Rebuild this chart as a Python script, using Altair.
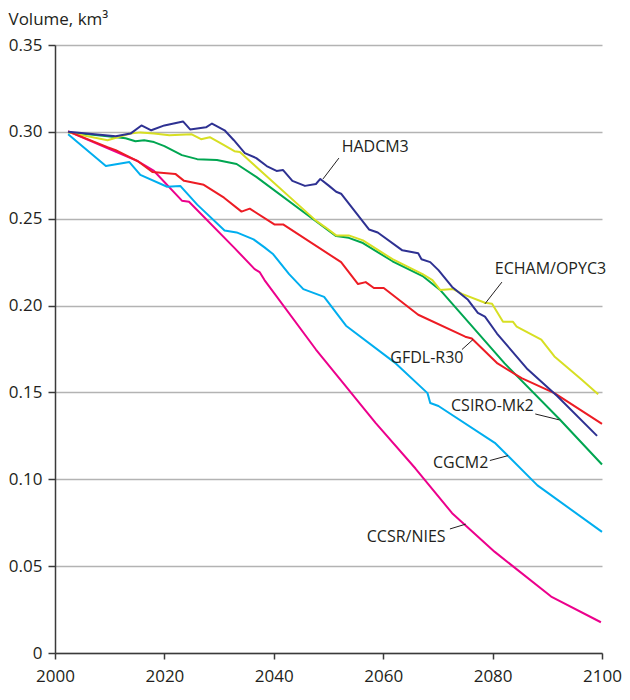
import altair as alt
import pandas as pd

# ---- data ----
hadcm3_year = [2002.4, 2011.1, 2013.8, 2015.8, 2017.6, 2020.0, 2023.4, 2024.7, 2027.6, 2028.7, 2031.0, 2032.7,
               2034.7, 2036.8, 2038.7, 2040.5, 2041.7, 2043.4, 2045.7, 2047.7, 2048.5, 2050.1, 2051.4, 2052.3,
               2057.4, 2059.0, 2063.5, 2066.4, 2067.0, 2068.6, 2070.1, 2072.6, 2075.5, 2077.3, 2078.6, 2080.8,
               2086.4, 2091.8, 2099.1]
hadcm3_vol = [0.300, 0.2975, 0.299, 0.3037, 0.3009, 0.3037, 0.306, 0.3014, 0.3026, 0.3048, 0.3009, 0.2952,
              0.2878, 0.2849, 0.2803, 0.2775, 0.278, 0.2718, 0.2689, 0.270, 0.2729, 0.2689, 0.2655, 0.2644,
              0.2438, 0.2421, 0.2318, 0.2301, 0.2267, 0.225, 0.2204, 0.2107, 0.2033, 0.1958, 0.1936, 0.1839,
              0.1633, 0.1479, 0.125]

echam_year = [2002.4, 2009.6, 2013.8, 2015.6, 2018.1, 2020.9, 2025.0, 2026.7, 2028.3, 2030.9, 2032.8, 2033.8,
              2035.6, 2047.7, 2049.5, 2051.4, 2053.7, 2056.3, 2061.7, 2067.2, 2069.0, 2070.4, 2072.8, 2074.4,
              2078.6, 2079.9, 2081.9, 2083.7, 2084.4, 2088.9, 2091.3, 2096.2, 2099.3]
echam_vol = [0.2997, 0.2952, 0.2991, 0.2997, 0.2991, 0.298, 0.2986, 0.2958, 0.2969, 0.2923, 0.2889, 0.2884,
             0.2832, 0.2489, 0.2449, 0.2404, 0.2404, 0.2375, 0.2267, 0.2181, 0.2147, 0.209, 0.2095, 0.2067,
             0.2016, 0.201, 0.1907, 0.1907, 0.1879, 0.1804, 0.1707, 0.1576, 0.149]

csiro_year = [2002.4, 2009.6, 2012.9, 2014.7, 2016.3, 2018.1, 2020.0, 2023.2, 2026.0, 2029.6, 2033.2, 2036.8,
              2047.7, 2051.4, 2053.7, 2056.3, 2061.7, 2067.2, 2070.4, 2082.2, 2092.2, 2100.0]
csiro_vol = [0.2997, 0.2975, 0.2963, 0.2946, 0.2952, 0.2941, 0.2918, 0.2866, 0.2843, 0.2838, 0.2815, 0.2741,
             0.2485, 0.240, 0.239, 0.236, 0.2255, 0.217, 0.209, 0.1667, 0.1347, 0.1085]

gfdl_year = [2002.4, 2009.6, 2011.1, 2015.1, 2017.8, 2022.0, 2023.6, 2027.2, 2030.9, 2034.1, 2035.6, 2040.1,
             2041.7, 2052.3, 2055.4, 2056.8, 2058.3, 2060.1, 2066.4, 2075.0, 2076.2, 2080.9, 2085.3, 2091.3,
             2100.0]
gfdl_vol = [0.3003, 0.2912, 0.2895, 0.2832, 0.2769, 0.2758, 0.2718, 0.2695, 0.2621, 0.2541, 0.2558, 0.2467,
            0.2467, 0.225, 0.2124, 0.2135, 0.2101, 0.2101, 0.1947, 0.1821, 0.181, 0.1667, 0.1582, 0.1496,
            0.1319]

cgcm2_year = [2002.4, 2009.3, 2013.6, 2015.6, 2020.5, 2022.9, 2026.0, 2031.0, 2033.2, 2036.3, 2038.3, 2039.9,
              2042.8, 2045.4, 2049.2, 2053.2, 2062.3, 2068.1, 2068.6, 2070.1, 2080.4, 2082.8, 2088.2, 2100.0]
cgcm2_vol = [0.2986, 0.2803, 0.2826, 0.2752, 0.2684, 0.2689, 0.2581, 0.2432, 0.2421, 0.2381, 0.2335, 0.2295,
             0.2181, 0.2095, 0.205, 0.1884, 0.1667, 0.1496, 0.1439, 0.1422, 0.121, 0.1136, 0.0965, 0.0697]

ccsr_year = [2002.4, 2015.1, 2018.1, 2023.2, 2024.5, 2032.7, 2036.5, 2037.4, 2038.3, 2047.7, 2049.9, 2058.6,
             2065.9, 2072.6, 2080.4, 2090.7, 2099.8]
ccsr_vol = [0.3003, 0.2832, 0.2775, 0.2604, 0.2598, 0.2335, 0.221, 0.2193, 0.2147, 0.1747, 0.1662, 0.1325,
            0.1062, 0.0805, 0.0582, 0.0325, 0.0177]

models = ["CCSR/NIES", "CGCM2", "CSIRO-Mk2", "ECHAM/OPYC3", "GFDL-R30", "HADCM3"]
colors = ["#ec008c", "#00aeef", "#00a651", "#d7df23", "#ed1c24", "#2e3192"]
series = {
    "CCSR/NIES": (ccsr_year, ccsr_vol),
    "CGCM2": (cgcm2_year, cgcm2_vol),
    "CSIRO-Mk2": (csiro_year, csiro_vol),
    "ECHAM/OPYC3": (echam_year, echam_vol),
    "GFDL-R30": (gfdl_year, gfdl_vol),
    "HADCM3": (hadcm3_year, hadcm3_vol),
}

# annotation anchors (data coordinates) and leader lines
label_text = ["HADCM3", "ECHAM/OPYC3", "GFDL-R30", "CSIRO-Mk2", "CGCM2", "CCSR/NIES"]
label_year = [2052.4, 2080.4, 2061.3, 2072.4, 2069.1, 2057.0]
label_vol = [0.2912, 0.2210, 0.1701, 0.1422, 0.1091, 0.0668]
lead_year1 = [2051.9, 2081.7, 2074.4, 2087.8, 2079.5, 2072.2]
lead_vol1 = [0.2849, 0.2135, 0.1747, 0.1376, 0.1108, 0.0714]
lead_year2 = [2049.0, 2078.6, 2076.4, 2092.2, 2082.8, 2075.1]
lead_vol2 = [0.2729, 0.2010, 0.1804, 0.1342, 0.1136, 0.0742]

x_ticks = [2000, 2020, 2040, 2060, 2080, 2100]
y_ticks = [0, 0.05, 0.10, 0.15, 0.20, 0.25, 0.30, 0.35]

rows = []
for i, m in enumerate(models):
    ys, vs = series[m]
    for j, (yr, v) in enumerate(zip(ys, vs)):
        rows.append({"model": m, "year": yr, "volume": v, "order": i * 1000 + j})
df = pd.DataFrame(rows)

lab = pd.DataFrame({"text": label_text, "year": label_year, "volume": label_vol})
lead = pd.DataFrame({"y1": lead_year1, "v1": lead_vol1, "y2": lead_year2, "v2": lead_vol2})

FONT = "Open Sans"
TXT = "#231f20"

xs = alt.Scale(domain=[2000, 2100], nice=False, zero=False)
ysc = alt.Scale(domain=[0, 0.35], nice=False)

lines = alt.Chart(df).mark_line(strokeWidth=2, strokeJoin="round").encode(
    x=alt.X("year:Q", scale=xs,
            axis=alt.Axis(values=x_ticks, format="d", grid=False, title=None,
                          labelFont=FONT, labelFontSize=17, labelColor=TXT,
                          tickSize=6, tickColor="#3a3a3a", tickWidth=1.5,
                          domainColor="#3a3a3a", domainWidth=1.5, labelPadding=9,
                          labelFlush=False, labelOverlap=False)),
    y=alt.Y("volume:Q", scale=ysc,
            axis=alt.Axis(values=y_ticks, grid=True, gridColor="#b3b3b3", gridWidth=1.5,
                          labelExpr="datum.value == 0 ? '0' : format(datum.value, '.2f')",
                          labelFont=FONT, labelFontSize=17, labelColor=TXT,
                          tickSize=7, tickColor="#3a3a3a", tickWidth=1.5,
                          domainColor="#3a3a3a", domainWidth=1.5, labelPadding=6,
                          title="Volume, km³", titleAngle=0, titleAlign="left",
                          titleBaseline="alphabetic", titleX=-47, titleY=-21,
                          titleFont=FONT, titleFontSize=17, titleFontWeight="normal",
                          titleColor=TXT)),
    color=alt.Color("model:N", scale=alt.Scale(domain=models, range=colors), legend=None),
    order="order:Q",
)

leaders = alt.Chart(lead).mark_rule(color=TXT, strokeWidth=1).encode(
    x=alt.X("y1:Q", scale=xs), y=alt.Y("v1:Q", scale=ysc),
    x2="y2:Q", y2="v2:Q",
)

texts = alt.Chart(lab).mark_text(align="left", baseline="middle", font=FONT,
                                 fontSize=16, color=TXT).encode(
    x=alt.X("year:Q", scale=xs), y=alt.Y("volume:Q", scale=ysc), text="text:N",
)

chart = alt.layer(lines, leaders, texts).properties(
    width=547, height=608,
    autosize=alt.AutoSizeParams(type="none"),
    padding={"left": 47, "top": 37, "right": 20, "bottom": 39},
    background="white",
).configure_view(stroke=None)

chart.save("out.html", embed_options={"renderer": "svg", "actions": False})
